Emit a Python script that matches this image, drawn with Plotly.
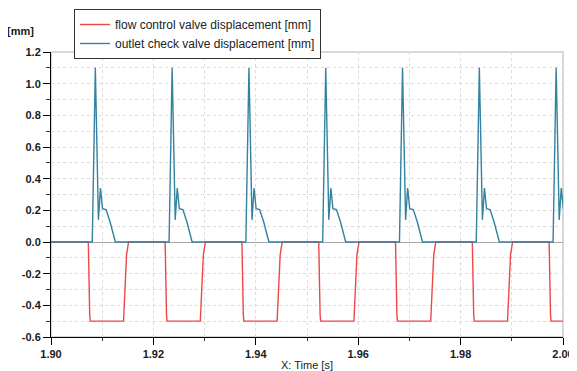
import plotly.graph_objects as go

# ---- data ----
series_names = ["flow control valve displacement [mm]", "outlet check valve displacement [mm]"]
peak_times = [1.90866, 1.92366, 1.93866, 1.95366, 1.96866, 1.98366, 1.99866]   # [s]
# outlet check valve pulse shape (time offset from peak [s], displacement [mm])
check_offsets = [-0.0006, 0.0, 0.0006, 0.0010, 0.0014, 0.0021, 0.0029, 0.0039]
check_values = [0.0, 1.10, 0.14, 0.34, 0.21, 0.205, 0.125, 0.0]
# flow control valve pulse shape (time offset from check-valve peak [s], displacement [mm])
flow_offsets = [-0.00137, -0.0011, -0.0010, 0.0055, 0.0058, 0.0061, 0.0065]
flow_values = [0.0, -0.46, -0.5, -0.5, -0.3, -0.08, 0.0]
x_ticks = [1.90, 1.92, 1.94, 1.96, 1.98, 2.00]
x_ticklabels = ["1.90", "1.92", "1.94", "1.96", "1.98", "2.00"]
y_ticks = [-0.6, -0.4, -0.2, 0.0, 0.2, 0.4, 0.6, 0.8, 1.0, 1.2]
y_ticklabels = ["-0.6", "-0.4", "-0.2", "0.0", "0.2", "0.4", "0.6", "0.8", "1.0", "1.2"]
t_start, t_end = 1.90, 2.00

flow_t, flow_y = [t_start], [0.0]
check_t, check_y = [t_start], [0.0]
for p in peak_times:
    flow_t += [p + o for o in flow_offsets]
    flow_y += flow_values
    check_t += [p + o for o in check_offsets]
    check_y += check_values
flow_t.append(t_end + 0.01); flow_y.append(flow_y[-1])

FONT = "Liberation Sans"
GRID = "#dcdcdc"
fig = go.Figure()
fig.add_trace(go.Scatter(x=flow_t, y=flow_y, mode="lines", name=series_names[0],
                         line=dict(color="rgb(240,70,70)", width=1.4)))
fig.add_trace(go.Scatter(x=check_t, y=check_y, mode="lines", name=series_names[1],
                         line=dict(color="rgb(50,130,160)", width=1.4)))

grid = dict(showgrid=True, gridcolor=GRID, griddash="dot", gridwidth=1)
# page body has an 8px default margin, so the figure is sized to end at the window edge
fig.update_layout(
    width=569, height=363,
    margin=dict(l=43, r=14, t=44, b=34, autoexpand=False),
    paper_bgcolor="white", plot_bgcolor="white",
    font=dict(family=FONT, size=12, color="#1a1a1a"),
    showlegend=True,
    legend=dict(x=(74 - 51) / 512, y=(337 - 9) / 285, xanchor="left", yanchor="top",
                bgcolor="white", bordercolor="#333333", borderwidth=1,
                font=dict(family=FONT, size=12, color="#222222"),
                itemwidth=30, tracegroupgap=0),
    xaxis=dict(range=[t_start, t_end], tickvals=x_ticks, ticktext=x_ticklabels,
               ticks="outside", ticklen=7, tickcolor="black", tickwidth=1,
               minor=dict(dtick=0.01, tick0=1.9, ticks="outside", ticklen=3, tickcolor="#333",
                          showgrid=True, gridcolor=GRID, griddash="dot"),
               showline=True, linecolor="black", linewidth=1, zeroline=False,
               tickfont=dict(family=FONT, size=11, weight="bold", color="#1a1a1a"),
               **grid),
    yaxis=dict(range=[-0.6, 1.2], tickvals=y_ticks, ticktext=y_ticklabels,
               ticks="outside", ticklen=7, tickcolor="black", tickwidth=1,
               minor=dict(dtick=0.1, tick0=0, ticks="outside", ticklen=4, tickcolor="#333",
                          showgrid=True, gridcolor=GRID, griddash="dot"),
               showline=True, linecolor="black", linewidth=1,
               zeroline=True, zerolinecolor="#a8a8a8", zerolinewidth=1,
               tickfont=dict(family=FONT, size=11, weight="bold", color="#1a1a1a"),
               **grid),
    shapes=[dict(type="rect", xref="paper", yref="paper", x0=0, x1=1, y0=0, y1=1,
                 line=dict(color="#d8d8d8", width=2), layer="below")],
    annotations=[
        dict(text="[mm]", xref="paper", yref="paper", x=0, y=1, xanchor="right", yanchor="bottom",
             xshift=-15, yshift=13, showarrow=False,
             font=dict(family=FONT, size=11, weight="bold", color="#1a1a1a")),
        dict(text="X: Time [s]", xref="paper", yref="paper", x=0.5, y=0, xanchor="center", yanchor="top",
             yshift=-20, showarrow=False, font=dict(family=FONT, size=11, color="#1a1a1a")),
    ],
)
fig.write_html("out.html")
